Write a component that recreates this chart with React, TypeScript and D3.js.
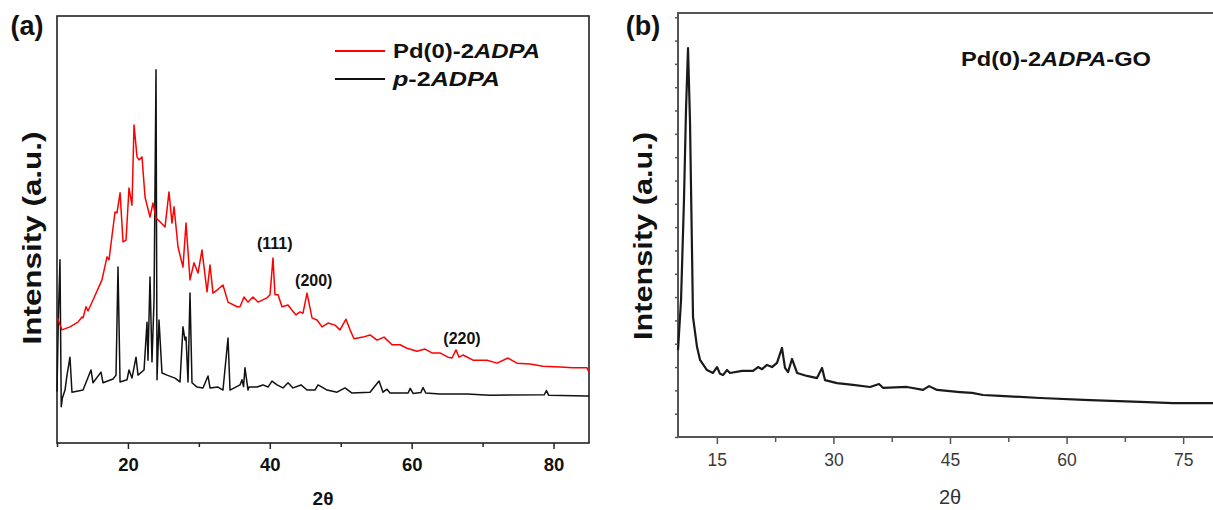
import { useEffect, useRef } from 'react';
import * as d3 from 'd3';

// (a) Pd(0)-2ADPA, red trace: [2theta, intensity a.u.]
const pdAdpa: [number, number][] = [
  [10.0, 29.5], [10.7, 26.5], [11.83, 27.2], [12.96, 28.3], [13.52, 29.5], [13.67, 29.3],
  [14.09, 31.9], [14.37, 30.9], [15.08, 33.5], [16.34, 38.2], [17.05, 43.6], [17.33, 42.9],
  [18.18, 54.1], [18.46, 53.9], [18.89, 58.6], [19.31, 47.1], [19.73, 47.5], [20.15, 59.7],
  [20.57, 55.7], [20.86, 74.5], [21.28, 67.0], [21.56, 66.3], [21.98, 67.0], [22.41, 57.6],
  [23.11, 52.9], [23.53, 56.2], [23.96, 52.7], [24.52, 51.8], [25.23, 50.6], [25.79, 58.8],
  [26.21, 51.5], [26.5, 55.3], [27.06, 45.9], [27.76, 41.2], [28.19, 51.5], [28.75, 38.2],
  [29.31, 42.2], [29.88, 39.8], [30.44, 45.2], [31.15, 35.4], [31.57, 41.7], [31.99, 35.1],
  [32.56, 35.8], [33.4, 37.0], [34.11, 33.0], [35.38, 31.9], [35.8, 31.9], [36.36, 34.2],
  [36.93, 33.0], [37.63, 34.2], [38.34, 33.0], [39.61, 34.0], [40.03, 34.7], [40.45, 43.3],
  [40.73, 34.7], [41.16, 34.7], [41.72, 31.9], [42.57, 32.3], [43.13, 31.1], [43.7, 30.0],
  [44.26, 30.7], [44.68, 30.4], [45.25, 35.1], [45.95, 29.3], [46.66, 28.8], [47.36, 27.2],
  [48.21, 28.1], [49.19, 27.6], [49.9, 26.5], [50.74, 29.0], [51.31, 26.5], [51.87, 24.4],
  [53.14, 24.8], [54.13, 25.3], [55.12, 24.1], [56.1, 24.8], [57.23, 23.0], [58.36, 23.0],
  [59.34, 22.2], [60.75, 21.5], [61.88, 22.0], [62.87, 21.1], [63.99, 21.1], [65.12, 20.1],
  [65.69, 19.9], [66.25, 21.8], [66.68, 20.1], [67.24, 20.6], [68.65, 19.4], [70.62, 19.4],
  [72.03, 18.7], [73.58, 19.9], [74.85, 18.7], [76.69, 18.5], [78.52, 18.0], [80.92, 17.8],
  [82.75, 17.6], [84.72, 17.6], [85.0, 16.6],
];

// (a) p-2ADPA, black trace
const pAdpa: [number, number][] = [
  [10.0, 12.0], [10.2, 30.0], [10.42, 42.9], [10.6, 8.5], [10.75, 10.5], [11.13, 12.4],
  [11.41, 15.9], [11.83, 20.1], [12.11, 11.9], [13.67, 12.4], [14.79, 17.1], [15.08, 14.1],
  [16.2, 16.6], [16.49, 14.1], [17.9, 15.0], [18.32, 15.9], [18.6, 41.2], [18.89, 14.3],
  [19.87, 14.8], [20.15, 17.1], [20.57, 15.2], [21.14, 20.1], [21.42, 15.9], [22.27, 17.1],
  [22.69, 28.3], [22.83, 19.4], [23.11, 38.9], [23.39, 19.0], [23.68, 33.5], [23.96, 87.4],
  [24.1, 14.8], [24.38, 28.8], [24.8, 16.4], [25.51, 15.9], [26.64, 15.2], [27.34, 14.3],
  [27.76, 27.2], [28.05, 24.1], [28.19, 24.8], [28.47, 14.3], [28.75, 35.1], [29.03, 14.1],
  [29.74, 13.1], [30.58, 12.9], [31.29, 15.7], [31.57, 12.9], [32.7, 13.1], [33.4, 12.4],
  [34.11, 24.6], [34.39, 12.4], [35.8, 13.6], [36.08, 14.8], [36.3, 13.2], [36.5, 17.6],
  [36.93, 12.4], [37.07, 13.1], [38.2, 13.1], [39.04, 13.6], [39.75, 13.1], [40.31, 14.5],
  [41.02, 13.6], [41.86, 12.9], [42.57, 14.1], [43.27, 12.9], [44.4, 13.6], [45.25, 12.4],
  [46.37, 12.4], [46.8, 13.6], [47.36, 13.1], [48.07, 12.4], [49.48, 11.9], [50.6, 12.9],
  [51.59, 11.7], [54.13, 11.9], [55.4, 14.5], [55.96, 11.9], [56.52, 12.6], [56.95, 11.7],
  [59.5, 11.7], [59.8, 12.8], [60.2, 11.6], [61.3, 11.8], [61.6, 13.0], [62.0, 11.7],
  [63.99, 11.5], [67.8, 11.5], [71.05, 11.2], [78.7, 11.3], [79.0, 12.3], [79.3, 11.2],
  [84.72, 11.0], [85.0, 11.0],
];

// (b) Pd(0)-2ADPA-GO
const pdAdpaGo: [number, number][] = [
  [10.0, 20.5], [10.39, 32.3], [10.77, 55.9], [11.03, 77.1], [11.29, 91.7], [11.54, 74.8],
  [11.8, 44.1], [11.93, 28.3], [12.45, 21.2], [12.83, 18.2], [13.73, 15.8], [14.5, 15.1],
  [15.02, 16.5], [15.41, 14.9], [15.79, 14.6], [16.31, 15.8], [16.69, 15.1], [18.24, 15.6],
  [19.65, 15.6], [20.3, 16.5], [20.81, 16.0], [21.45, 17.0], [22.1, 16.5], [22.74, 17.5],
  [23.38, 21.0], [23.77, 16.3], [24.16, 15.3], [24.67, 18.4], [25.32, 15.1], [26.6, 14.4],
  [27.89, 13.9], [28.53, 16.3], [28.92, 13.4], [30.46, 12.7], [32.52, 12.3], [34.71, 11.8],
  [35.87, 12.5], [36.38, 11.6], [39.47, 11.8], [41.53, 11.1], [42.3, 12.0], [43.33, 11.1],
  [46.29, 10.6], [47.84, 10.4], [49.25, 9.9], [51.44, 9.7], [56.59, 9.2], [63.03, 8.7],
  [69.46, 8.3], [73.71, 8.0], [78.86, 8.0], [80.0, 8.0],
];

const peakLabels = [
  { label: '(111)', theta: 40.7, level: 46.8 },
  { label: '(200)', theta: 46.2, level: 38.2 },
  { label: '(220)', theta: 67.1, level: 24.6 },
];

const ticksAMajor = [20, 40, 60, 80];
const ticksAMinor = [10, 30, 50, 70];
const ticksBMajor = [15, 30, 45, 60, 75];
const ticksBMinor = [22.5, 37.5, 52.5, 67.5];

const FONT = "Arial, 'Liberation Sans', Helvetica, sans-serif";

const width = 1213;
const height = 510;

const ax = d3.scaleLinear().domain([10, 85]).range([57, 589]);
const ay = d3.scaleLinear().domain([0, 100]).range([443, 16]);
const bx = d3.scaleLinear().domain([10, 80]).range([678, 1222]);
const by = d3.scaleLinear().domain([0, 100]).range([437, 13]);

const lineA = d3.line<[number, number]>().x(d => ax(d[0])).y(d => ay(d[1]));
const lineB = d3.line<[number, number]>().x(d => bx(d[0])).y(d => by(d[1]));

const App = () => {
  const axisA = useRef<SVGGElement>(null);
  const axisB = useRef<SVGGElement>(null);

  useEffect(() => {
    const ga = d3.select(axisA.current);
    ga.selectAll('*').remove();
    ga.append('g')
      .call(d3.axisBottom(ax).tickValues(ticksAMinor).tickSize(4).tickFormat(() => ''));
    ga.append('g')
      .call(d3.axisBottom(ax).tickValues(ticksAMajor).tickSize(6).tickPadding(9).tickFormat(d3.format('d')));
    ga.selectAll('.domain').remove();
    ga.selectAll('line').attr('stroke', '#222').attr('stroke-width', 1.5);
    ga.selectAll('text')
      .attr('fill', '#111')
      .style('font-family', FONT)
      .style('font-size', '18.5px')
      .style('font-weight', 'bold');

    const gb = d3.select(axisB.current);
    gb.selectAll('*').remove();
    gb.append('g')
      .call(d3.axisBottom(bx).tickValues(ticksBMinor).tickSize(5).tickFormat(() => ''));
    gb.append('g')
      .call(d3.axisBottom(bx).tickValues(ticksBMajor).tickSize(7).tickPadding(10).tickFormat(d3.format('d')));
    gb.append('g')
      .attr('transform', `translate(${bx(10)},${-437})`)
      .call(d3.axisLeft(by).tickValues(d3.range(0, 100, 5.5)).tickSize(3).tickFormat(() => ''));
    gb.selectAll('.domain').remove();
    gb.selectAll('line').attr('stroke', '#555').attr('stroke-width', 1.5);
    gb.selectAll('text')
      .attr('fill', '#3a3a3a')
      .style('font-family', FONT)
      .style('font-size', '17.5px');
  }, []);

  return (
    <svg width={width} height={height} style={{ position: 'absolute', left: 0, top: 0, background: '#fff' }}>
      {/* panel (a) */}
      <rect x={ax(10)} y={ay(100)} width={ax(85) - ax(10)} height={ay(0) - ay(100)}
        fill="none" stroke="#222" strokeWidth={1.6} />
      <path d={lineA(pAdpa) ?? ''} fill="none" stroke="#111" strokeWidth={1.5} strokeLinejoin="round" />
      <path d={lineA(pdAdpa) ?? ''} fill="none" stroke="#ff0000" strokeWidth={1.5} strokeLinejoin="round" />
      <g ref={axisA} transform={`translate(0,${ay(0)})`} />
      {peakLabels.map(p => (
        <text key={p.label} x={ax(p.theta)} y={ay(p.level) + 6} textAnchor="middle"
          fontFamily={FONT} fontWeight="bold" fontSize={16} fill="#111">{p.label}</text>
      ))}
      <line x1={335} x2={385} y1={51} y2={51} stroke="#ff0000" strokeWidth={2} />
      <line x1={335} x2={385} y1={79} y2={79} stroke="#111" strokeWidth={2} />
      <text x={393} y={58} fontFamily={FONT} fontWeight="bold" fontSize={21} fill="#111"
        textLength={147} lengthAdjust="spacingAndGlyphs">
        Pd(0)-2<tspan fontStyle="italic">ADPA</tspan>
      </text>
      <text x={393} y={86} fontFamily={FONT} fontWeight="bold" fontSize={21} fill="#111"
        textLength={107} lengthAdjust="spacingAndGlyphs">
        <tspan fontStyle="italic">p</tspan>-2<tspan fontStyle="italic">ADPA</tspan>
      </text>
      <text x={27} y={35} textAnchor="middle" fontFamily={FONT} fontWeight="bold" fontSize={27} fill="#111">(a)</text>
      <text transform="translate(41,238) rotate(-90)" textAnchor="middle" fontFamily={FONT}
        fontWeight="bold" fontSize={26} fill="#111" textLength={213} lengthAdjust="spacingAndGlyphs">
        Intensity (a.u.)
      </text>
      <text x={ax(47.5)} y={505} textAnchor="middle" fontFamily={FONT} fontWeight="bold" fontSize={19} fill="#111">2θ</text>

      {/* panel (b) */}
      <rect x={bx(10)} y={by(100)} width={bx(80) - bx(10)} height={by(0) - by(100)}
        fill="none" stroke="#555" strokeWidth={2} />
      <path d={lineB(pdAdpaGo) ?? ''} fill="none" stroke="#1a1a1a" strokeWidth={2.2} strokeLinejoin="round" />
      <g ref={axisB} transform={`translate(0,${by(0)})`} />
      <text x={961} y={66} fontFamily={FONT} fontWeight="bold" fontSize={21} fill="#111"
        textLength={190} lengthAdjust="spacingAndGlyphs">
        Pd(0)-2<tspan fontStyle="italic">ADPA</tspan>-GO
      </text>
      <text x={643} y={35} textAnchor="middle" fontFamily={FONT} fontWeight="bold" fontSize={27} fill="#111">(b)</text>
      <text transform="translate(652,236) rotate(-90)" textAnchor="middle" fontFamily={FONT}
        fontWeight="bold" fontSize={26} fill="#111" textLength={208} lengthAdjust="spacingAndGlyphs">
        Intensity (a.u.)
      </text>
      <text x={bx(45)} y={504} textAnchor="middle" fontFamily={FONT} fontSize={20} fill="#333">2θ</text>
    </svg>
  );
};

export default App;
